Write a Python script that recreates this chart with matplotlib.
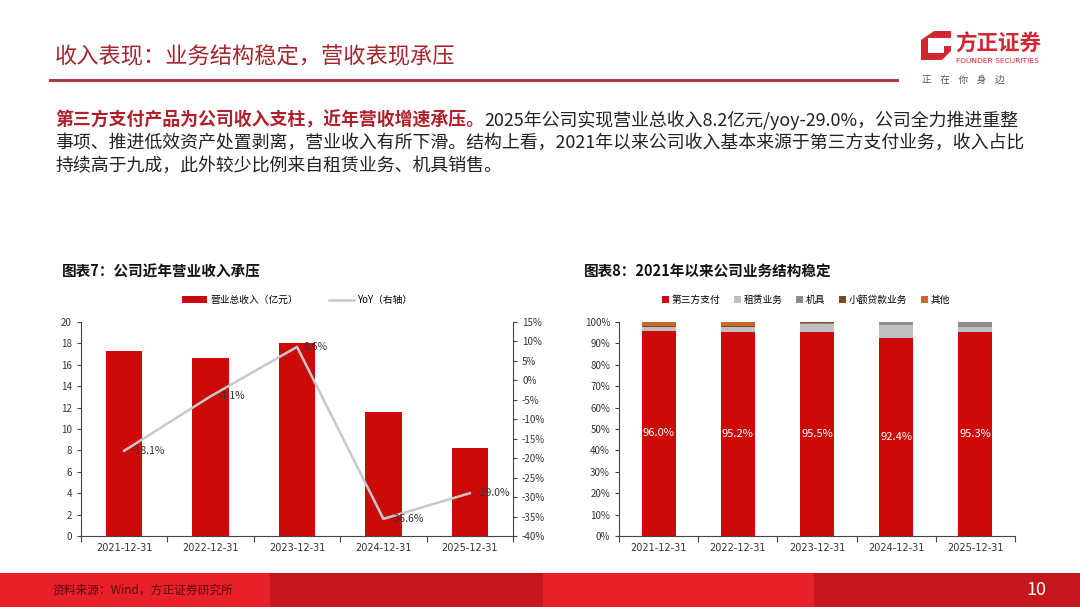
import matplotlib
matplotlib.use("Agg")
import matplotlib.pyplot as plt
import matplotlib.patches as mpatches
from matplotlib.lines import Line2D
from matplotlib.ticker import FuncFormatter, MultipleLocator, FixedLocator

plt.rcParams["font.family"] = ["Noto Sans CJK SC", "DejaVu Sans"]
plt.rcParams["axes.unicode_minus"] = False

# ---------------------------------------------------------------------------
# Data
# ---------------------------------------------------------------------------
years = ["2021-12-31", "2022-12-31", "2023-12-31", "2024-12-31", "2025-12-31"]
revenue = [17.3, 16.6, 18.0, 11.6, 8.2]          # 营业总收入（亿元）
yoy = [-18.1, -4.1, 8.6, -35.6, -29.0]           # YoY（%）

seg_names = ["第三方支付", "租赁业务", "机具", "小额贷款业务", "其他"]
seg_payment = [96.0, 95.2, 95.5, 92.4, 95.3]
seg_lease = [1.7, 2.4, 3.7, 6.4, 2.5]
seg_device = [0.0, 0.0, 0.5, 1.2, 2.2]
seg_loan = [0.2, 0.6, 0.3, 0.0, 0.0]
seg_other = [2.1, 1.8, 0.0, 0.0, 0.0]

W, H = 1080, 607
RED = "#CC0A0A"
AXC = "#444444"
BODY_FS = 12.9


def px_rect(x0, y0, x1, y1):
    return [x0 / W, 1 - y1 / H, (x1 - x0) / W, (y1 - y0) / H]


def ftext(fig, x, y, s, **kw):
    return fig.text(x / W, 1 - y / H, s, **kw)


def style_cat_axis(ax, n):
    # category boundary ticks on the bottom axis, labels at centres
    ax.set_xlim(-0.5, n - 0.5)
    ax.xaxis.set_major_locator(FixedLocator([i - 0.5 for i in range(n + 1)]))
    ax.xaxis.set_major_formatter(FuncFormatter(lambda v, p: ""))
    ax.set_xticks(range(n), minor=True)
    ax.set_xticklabels(years, minor=True, fontsize=7, color="#333333",
                       family="DejaVu Sans")
    ax.tick_params(axis="x", which="major", length=4, color=AXC, width=0.8)
    ax.tick_params(axis="x", which="minor", length=0, pad=5)
    for s in ["top", "right"]:
        ax.spines[s].set_visible(False)
    ax.spines["bottom"].set_color(AXC)
    ax.spines["left"].set_color(AXC)
    ax.tick_params(axis="y", length=3, color=AXC, labelsize=7,
                   labelcolor="#333333")


fig = plt.figure(figsize=(W / 100, H / 100), dpi=100)

# ---------------------------------------------------------------------------
# Page header
# ---------------------------------------------------------------------------
ftext(fig, 55, 57, "收入表现：业务结构稳定，营收表现承压", fontsize=16,
      color="#A3252D", va="center")
fig.add_artist(Line2D([50 / W, 897 / W], [1 - 80 / H, 1 - 80 / H],
                      color="#B13A40", linewidth=2.2))

# logo
mark = mpatches.Polygon(
    [(921 / W, 1 - 60 / H), (921 / W, 1 - 40 / H), (934 / W, 1 - 31 / H),
     (951 / W, 1 - 31 / H), (951 / W, 1 - 38 / H), (928 / W, 1 - 38 / H),
     (928 / W, 1 - 53 / H), (944 / W, 1 - 53 / H), (944 / W, 1 - 46 / H),
     (951 / W, 1 - 46 / H), (951 / W, 1 - 51 / H), (942 / W, 1 - 60 / H)],
    closed=True, transform=fig.transFigure, color="#D22630", lw=0)
fig.add_artist(mark)
ftext(fig, 955, 44, "方正证券", fontsize=15.5, fontweight="bold",
      color="#D22630", va="center")
ftext(fig, 956, 61, "FOUNDER SECURITIES", fontsize=5.4, color="#D22630",
      va="center", family="DejaVu Sans")
ftext(fig, 922, 80, "正    在    你    身    边", fontsize=7, color="#555555",
      va="center")

# body text
fig.canvas.draw()
renderer = fig.canvas.get_renderer()
t1 = ftext(fig, 55, 120, "第三方支付产品为公司收入支柱，近年营收增速承压。",
           fontsize=BODY_FS, fontweight="bold", color="#B0202A", va="center")
bb = t1.get_window_extent(renderer)
fig.text(bb.x1 / W, 1 - 120 / H,
         "2025年公司实现营业总收入8.2亿元/yoy-29.0%，公司全力推进重整",
         fontsize=BODY_FS, color="#222222", va="center")
ftext(fig, 55, 143,
      "事项、推进低效资产处置剥离，营业收入有所下滑。结构上看，2021年以来公司收入基本来源于第三方支付业务，收入占比",
      fontsize=BODY_FS, color="#222222", va="center")
ftext(fig, 55, 166, "持续高于九成，此外较少比例来自租赁业务、机具销售。",
      fontsize=BODY_FS, color="#222222", va="center")

# ---------------------------------------------------------------------------
# Chart 7: revenue + YoY
# ---------------------------------------------------------------------------
ftext(fig, 62, 272, "图表7：公司近年营业收入承压", fontsize=10.5,
      fontweight="bold", color="#111111", va="center")

ax1 = fig.add_axes(px_rect(81, 322, 513, 536))
x = list(range(len(years)))
ax1.bar(x, revenue, width=0.42, color=RED, label="营业总收入（亿元）", zorder=2)
ax1.set_ylim(0, 20)
ax1.yaxis.set_major_locator(MultipleLocator(2))
style_cat_axis(ax1, len(years))

ax2 = ax1.twinx()
ax2.plot(x, yoy, color="#C8C8C8", linewidth=1.8, label="YoY（右轴）", zorder=3)
ax2.set_ylim(-40, 15)
ax2.yaxis.set_major_locator(MultipleLocator(5))
ax2.yaxis.set_major_formatter(FuncFormatter(lambda v, p: f"{v:.0f}%"))
for s in ["top", "left", "bottom"]:
    ax2.spines[s].set_visible(False)
ax2.spines["right"].set_color(AXC)
ax2.tick_params(axis="y", length=3, color=AXC, labelsize=7, labelcolor="#333333")
for xi, v in zip(x, yoy):
    ax2.annotate(f"{v:.1f}%", (xi, v), xytext=(5, 0), textcoords="offset points",
                 fontsize=7.5, color="#333333", va="center", ha="left")

h1, l1 = ax1.get_legend_handles_labels()
h2, l2 = ax2.get_legend_handles_labels()
ax1.legend(h1 + h2, l1 + l2, loc="center", bbox_to_anchor=(0.5, 1 + 22 / 214),
           ncol=2, frameon=False, fontsize=7, handlelength=2.6,
           handleheight=0.6, columnspacing=3.2, handletextpad=0.3)

# ---------------------------------------------------------------------------
# Chart 8: revenue structure
# ---------------------------------------------------------------------------
ftext(fig, 584, 272, "图表8：2021年以来公司业务结构稳定", fontsize=10.5,
      fontweight="bold", color="#111111", va="center")

ax3 = fig.add_axes(px_rect(619, 322, 1015, 536))
segments = [seg_payment, seg_lease, seg_device, seg_loan, seg_other]
colors = [RED, "#BFBFBF", "#8C8C8C", "#7B4A1E", "#C8692A"]
bottom = [0.0] * len(years)
for name, vals, c in zip(seg_names, segments, colors):
    fr = [v / 100 for v in vals]
    ax3.bar(x, fr, width=0.43, bottom=bottom, color=c, label=name, zorder=2)
    bottom = [b + f for b, f in zip(bottom, fr)]
for xi, v in zip(x, seg_payment):
    ax3.text(xi, v / 200, f"{v:.1f}%", ha="center", va="center",
             fontsize=8, color="white")
ax3.set_ylim(0, 1)
ax3.yaxis.set_major_locator(MultipleLocator(0.1))
ax3.yaxis.set_major_formatter(FuncFormatter(lambda v, p: f"{v * 100:.0f}%"))
style_cat_axis(ax3, len(years))
ax3.legend(loc="center", bbox_to_anchor=(0.472, 1 + 22 / 214), ncol=5,
           frameon=False, fontsize=7, handlelength=0.7, handleheight=0.7,
           columnspacing=1.4, handletextpad=0.3)

# ---------------------------------------------------------------------------
# Footer
# ---------------------------------------------------------------------------
bands = [(0, 270, "#E8202A"), (270, 543, "#C4161C"),
         (543, 814, "#E8202A"), (814, 1080, "#C4161C")]
for x0, x1, c in bands:
    fig.add_artist(mpatches.Rectangle((x0 / W, 0), (x1 - x0) / W, 34 / H,
                                      transform=fig.transFigure, color=c, lw=0))
ftext(fig, 52, 590, "资料来源：Wind，方正证券研究所", fontsize=8.5,
      style="italic", color="#5A0A0A", va="center")
ftext(fig, 1046, 590, "10", fontsize=13, color="white", va="center", ha="right")

plt.savefig("out.png", dpi=100)
plt.close()
